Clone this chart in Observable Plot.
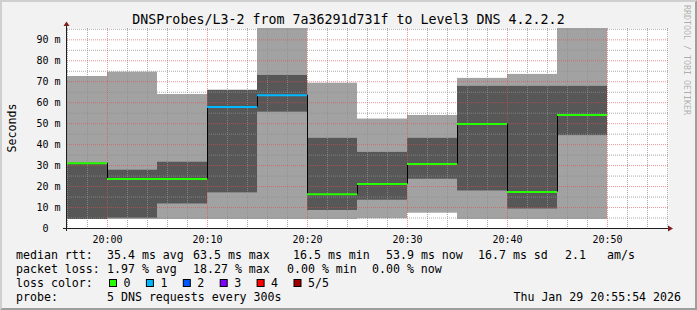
<!DOCTYPE html>
<html><head><meta charset="utf-8">
<script src="https://cdn.jsdelivr.net/npm/d3@7"></script>
<script src="https://cdn.jsdelivr.net/npm/@observablehq/plot@0.6"></script>
<style>
html,body{margin:0;padding:0;background:#f2f2f2;}
#chart svg{display:block}
</style></head><body><div id="chart"></div>
<script>
// ---- data ----
const title = "DNSProbes/L3-2 from 7a36291d731f to Level3 DNS 4.2.2.2";
const yLabel = "Seconds";
const watermark = "RRDTOOL / TOBI OETIKER";
const intervalStarts = ["19:55","20:00","20:05","20:10","20:15","20:20","20:25","20:30","20:35","20:40","20:45"];
const pingMin    = [4.3, 4.3, 4.3, 4.3, 4.3, 4.3, 4.6, 7.3, 4.3, 4.3, 4.3];
const ping2      = [4.3, 4.9, 11.7, 17.0, 55.5, 8.6, 13.5, 23.5, 17.9, 9.3, 44.3];
const pingMedian = [31.1, 23.6, 23.6, 57.9, 63.6, 16.3, 21.2, 30.8, 49.8, 17.4, 54.1];
const ping4      = [31.2, 27.8, 31.6, 65.9, 73.0, 43.0, 36.3, 43.0, 67.8, 67.8, 67.8];
const pingMax    = [72.5, 74.6, 63.9, 65.9, 98.0, 69.3, 52.2, 53.9, 71.6, 73.5, 98.0];
const lossCount  = [0, 0, 0, 1, 1, 0, 0, 0, 0, 0, 0];
const xDomain = ["19:56:00", "20:56:06"];
const yMax = 95.4;
const yTicks = [0, 10, 20, 30, 40, 50, 60, 70, 80, 90];
const lossLabels = ["0", "1", "2", "3", "4", "5/5"];
const lossColors = ["#26ff00", "#00b8ff", "#0059ff", "#7e00ff", "#ff0000", "#a10000"];
const statsRtt  = ["median rtt:", "35.4 ms avg", "63.5 ms max", "16.5 ms min", "53.9 ms now", "16.7 ms sd", "2.1", "am/s"];
const statsLoss = ["packet loss:", "1.97 % avg", "18.27 % max", "0.00 % min", "0.00 % now"];
const lossColorLabel = "loss color:";
const probeInfo = ["probe:", "5 DNS requests every 300s"];
const timestamp = "Thu Jan 29 20:55:54 2026";

// ---- build ----
const toDate = s => new Date(`2026-01-29T${s.length === 5 ? s + ":00" : s}Z`);
const rows = intervalStarts.map((s, i) => ({
  start: toDate(s),
  end: new Date(+toDate(s) + 300000),
  min: pingMin[i], p2: ping2[i], median: pingMedian[i], p4: ping4[i], max: pingMax[i],
  loss: lossCount[i]
}));
const x0 = toDate(xDomain[0]), x1 = toDate(xDomain[1]);
const majorX = d3.utcMinute.every(10).range(x0, x1);
const minorX = d3.utcMinute.every(2).range(x0, x1).filter(d => d.getUTCMinutes() % 10 !== 0);
const majorY = d3.range(10, yMax, 10);
const minorY = d3.range(5, yMax, 10);
const FONT = "'DejaVu Sans Mono', monospace";

const plot = Plot.plot({
  width: 697, height: 310,
  marginLeft: 67, marginRight: 29, marginTop: 28, marginBottom: 82,
  style: {background: "#f2f2f2", fontFamily: FONT, fontSize: "10px", color: "#000", overflow: "visible"},
  x: {type: "utc", domain: [x0, x1]},
  y: {domain: [0, yMax]},
  color: {type: "identity"},
  marks: [
    Plot.frame({fill: "#ffffff", stroke: null}),
    Plot.rectY(rows, {x1: "start", x2: "end", y1: "min", y2: "max", fill: "#a2a2a2", clip: true}),
    Plot.rectY(rows, {x1: "start", x2: "end", y1: "p2", y2: "p4", fill: "#575757", clip: true}),
    Plot.ruleX(minorX, {stroke: "rgb(143,143,143)", strokeOpacity: 0.75, strokeDasharray: "1,1"}),
    Plot.ruleY(minorY, {stroke: "rgb(143,143,143)", strokeOpacity: 0.75, strokeDasharray: "1,1"}),
    Plot.ruleX(majorX, {stroke: "rgb(222,79,79)", strokeOpacity: 0.6, strokeDasharray: "1,1"}),
    Plot.ruleY(majorY, {stroke: "rgb(222,79,79)", strokeOpacity: 0.6, strokeDasharray: "1,1"}),
    Plot.ruleX(rows.slice(1), {x: "start", y1: (d, i) => rows[i].median, y2: "median", stroke: "#000", strokeWidth: 1}),
    Plot.ruleY(rows, {y: "median", x1: "start", x2: "end", stroke: d => lossColors[d.loss], strokeWidth: 2, clip: true}),
    Plot.axisX({ticks: majorX, tickFormat: d3.utcFormat("%H:%M"), tickSize: 0, tickPadding: 7, label: null, fontSize: 10}),
    Plot.axisY({ticks: yTicks, tickFormat: v => v === 0 ? "0\u00a0\u00a0" : v + " m", tickSize: 0, tickPadding: 7, label: null, fontSize: 10})
  ]
});
document.getElementById("chart").appendChild(plot);

const svg = d3.select(plot);
const W = 697, H = 310;
const xs = plot.scale("x"), ys = plot.scale("y");
const xL = xs.range[0], xR = xs.range[1], yB = ys.apply(0), yT = ys.range[1];

// 3D border
svg.append("path").attr("d", `M0,0H${W}L${W-2},2H2V${H-2}L0,${H}Z`).attr("fill", "#cfcfcf");
svg.append("path").attr("d", `M${W},0V${H}H0L2,${H-2}H${W-2}V2Z`).attr("fill", "#9e9e9e");

// axes lines + arrows
const ax = svg.append("g");
ax.append("line").attr("x1", xL - 0.5).attr("x2", xL - 0.5).attr("y1", yB + 3).attr("y2", yT - 3)
  .attr("stroke", "#1f1f1f");
ax.append("line").attr("x1", xL - 4).attr("x2", xR + 3).attr("y1", yB + 0.5).attr("y2", yB + 0.5)
  .attr("stroke", "#1f1f1f");
ax.append("path").attr("d", `M${xL-3.5},${yT-2}L${xL+2.5},${yT-2}L${xL-0.5},${yT-6.5}Z`).attr("fill", "#801f1f");
ax.append("path").attr("d", `M${xR},${yB-2.5}L${xR},${yB+3.5}L${xR+5},${yB+0.5}Z`).attr("fill", "#801f1f");

const txt = (x, y, s, size, anchor = "start") => svg.append("text")
  .attr("x", x).attr("y", y).attr("font-family", FONT).attr("font-size", size)
  .attr("text-anchor", anchor).attr("fill", "#000").attr("xml:space", "preserve").text(s);

// title
txt(W / 2, 23.5, title, "13.3px", "middle");
// y label
svg.append("text").attr("transform", `translate(15.5,${(yB + yT) / 2}) rotate(-90)`)
  .attr("font-family", FONT).attr("font-size", "11.6px").attr("text-anchor", "middle").attr("fill", "#000").text(yLabel);
// watermark
svg.append("text").attr("transform", `translate(683.5,60) rotate(90)`)
  .attr("font-family", FONT).attr("font-size", "8.3px").attr("text-anchor", "middle")
  .attr("fill", "#000").attr("fill-opacity", 0.3).text(watermark);

// legend
const LF = "11.6px";
const rttX = [16, 107, 193, 293, 386, 478, 565, 607];
statsRtt.forEach((s, i) => txt(rttX[i], 258.5, s, LF));
const lossX = [16, 107, 193, 287, 372];
statsLoss.forEach((s, i) => txt(lossX[i], 272.5, s, LF));
txt(16, 286.5, lossColorLabel, LF);
lossLabels.forEach((s, i) => {
  const bx = 109 + i * 36.9;
  svg.append("rect").attr("x", bx + 0.5).attr("y", 279.5).attr("width", 7).attr("height", 7)
    .attr("fill", lossColors[i]).attr("stroke", "#000").attr("stroke-width", 1);
  txt(bx + 14.5, 286.5, s, LF);
});
txt(16, 300.5, probeInfo[0], LF);
txt(107, 300.5, probeInfo[1], LF);
txt(681, 300.5, timestamp, LF, "end");
</script></body></html>
